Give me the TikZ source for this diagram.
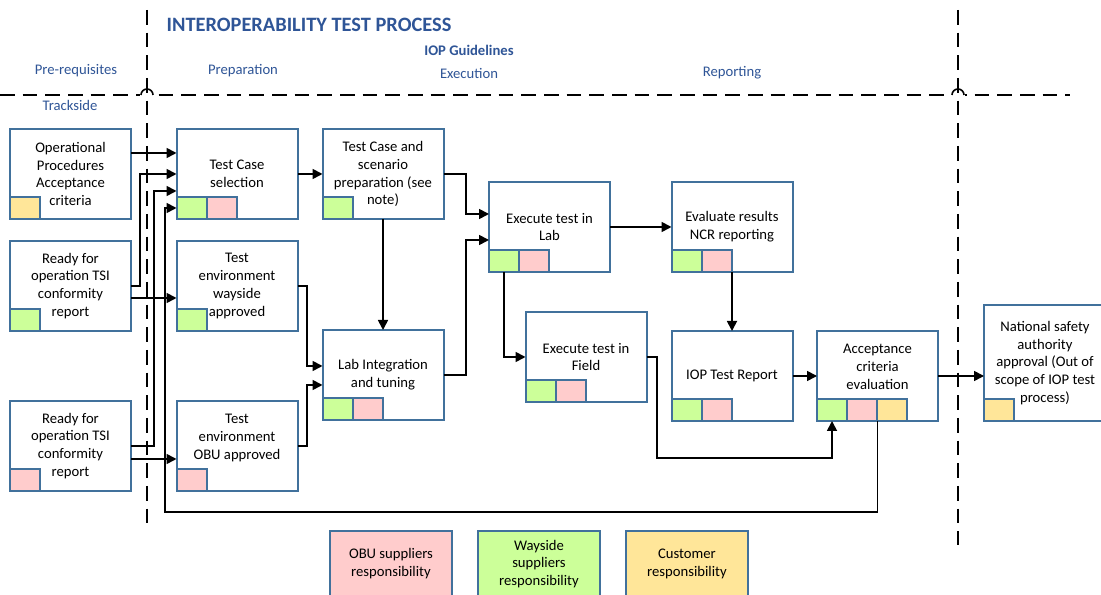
\documentclass[tikz,border=0pt]{standalone}
\usepackage{fontspec}
\setmainfont{Carlito}
\usetikzlibrary{arrows.meta}
\definecolor{bord}{HTML}{41719C}
\definecolor{grn}{HTML}{CCFF99}
\definecolor{pnk}{HTML}{FFCCCC}
\definecolor{ylw}{HTML}{FFE699}
\definecolor{hdrblue}{HTML}{2F5597}
\newcommand\mksq[2]{%
  \foreach \c [count=\i] in {#2} {
    \node[sq, fill=\c] (#1s\i) at ([xshift={(\i-1)*22.5pt}]#1.south west) {};
  }}
\begin{document}
\begin{tikzpicture}[x=0.75pt,y=-0.75pt,
  box/.style={draw=bord, line width=1.5pt, fill=white, minimum width=90.75pt, minimum height=67.5pt,
    inner sep=0pt, outer sep=0pt, align=center, font=\fontsize{11}{13.4}\selectfont},
  sq/.style={draw=bord, line width=1.5pt, minimum width=22.5pt, minimum height=16.5pt,
    inner sep=0pt, outer sep=0pt, anchor=south west},
  legend/.style={box, minimum width=91.5pt, minimum height=49.5pt},
  arr/.style={line width=1.3pt, -{Triangle[length=7.5pt,width=7.5pt]}},
  headtext/.style={text=hdrblue, font=\fontsize{11}{13.4}\selectfont, inner sep=0pt},
  sep/.style={line width=1.5pt, dash pattern=on 11pt off 6pt}]
\useasboundingbox[fill=white] (0,0) rectangle (1101,595);

% separators
\draw[sep] (0,95) -- (1070,95);
\draw[white, line width=3pt] (140,95) -- (154,95);
\draw[white, line width=3pt] (951,95) -- (965,95);
\draw[sep] (147,10) -- (147,530);
\draw[sep] (958,10) -- (958,545);
\draw[line width=1.2pt] (141,95) arc[start angle=180, end angle=0, radius=4.5pt];
\draw[line width=1.2pt] (952,95) arc[start angle=180, end angle=0, radius=4.5pt];

% headings
\node[headtext, font=\fontsize{15.3}{17}\selectfont\bfseries] (title) at (309,25) {INTEROPERABILITY TEST PROCESS};
\node[headtext, font=\fontsize{11}{13.4}\selectfont\bfseries] (iop) at (469,50) {IOP Guidelines};
\node[headtext] (h1) at (76,71) {Pre-requisites};
\node[headtext] (h2) at (243,71) {Preparation};
\node[headtext] (h3) at (469,73) {Execution};
\node[headtext] (h4) at (732,73) {Reporting};
\node[headtext] (h5) at (70,105) {Trackside};

% boxes
\node[box] (A1) at (70.5,174) {Operational\\Procedures\\Acceptance\\criteria};
\node[box] (A2) at (70.5,286) {Ready for\\operation TSI\\conformity\\report};
\node[box] (A3) at (70.5,446) {Ready for\\operation TSI\\conformity\\report};
\node[box] (B1) at (237,174) {Test Case\\selection};
\node[box] (B2) at (237,286) {Test\\environment\\wayside\\approved};
\node[box] (B3) at (237,446) {Test\\environment\\OBU approved\\\mbox{}};
\node[box] (C1) at (383,174) {Test Case and\\scenario\\preparation (see\\note)};
\node[box] (C2) at (383,375) {Lab Integration\\and tuning};
\node[box] (D1) at (549.5,227) {Execute test in\\Lab};
\node[box] (D2) at (586,357) {Execute test in\\Field};
\node[box] (E1) at (732,227) {Evaluate results\\NCR reporting};
\node[box] (E2) at (732,376) {IOP Test Report};
\node[box] (F) at (877.5,376) {Acceptance\\criteria\\evaluation\\\mbox{}};
\node[box, minimum width=91.5pt, minimum height=87pt] (G) at (1045,363)
  {National safety\\authority\\approval (Out of\\scope of IOP test\\process)};

\mksq{A1}{ylw}
\mksq{A2}{grn}
\mksq{A3}{pnk}
\mksq{B1}{grn,pnk}
\mksq{B2}{grn}
\mksq{B3}{pnk}
\mksq{C1}{grn}
\mksq{C2}{grn,pnk}
\mksq{D1}{grn,pnk}
\mksq{D2}{grn,pnk}
\mksq{E1}{grn,pnk}
\mksq{E2}{grn,pnk}
\mksq{F}{grn,pnk,ylw}
\mksq{G}{ylw}

% legend
\node[legend, fill=pnk] (L1) at (391,564) {OBU suppliers\\responsibility};
\node[legend, fill=grn] (L2) at (539,564) {Wayside\\suppliers\\responsibility};
\node[legend, fill=ylw] (L3) at (687,564) {Customer\\responsibility};

% connectors
\draw[arr] ([yshift=15.75pt]A1.east) -- ([yshift=15.75pt]B1.west);
\draw[arr] (A2.east) -| (140,174) -- (B1.west);
\draw[arr] ([yshift=-9pt]A2.east) -- ([yshift=-9pt]B2.west);
\draw[arr] (A3.east) -| (154,191) -- ([yshift=-12.75pt]B1.west);
\draw[arr] ([yshift=-9.75pt]A3.east) -- ([yshift=-9.75pt]B3.west);
\draw[arr] (B1.east) -- (C1.west);
\draw[arr] (B2.east) -| (307,366) -- ([yshift=6.75pt]C2.west);
\draw[arr] (B3.east) -| (307,385) -- ([yshift=-7.5pt]C2.west);
\draw[arr] (C1.east) -| (466,214) -- ([yshift=9.75pt]D1.west);
\draw[arr] (C1.south) -- (C2.north);
\draw[arr] (C2.east) -| (466,240) -- ([yshift=-9.75pt]D1.west);
\draw[arr] (D1.east) -- (E1.west);
\draw[arr] (D1s1.south) |- (D2.west);
\draw[arr] (E1.south) -- (E2.north);
\draw[arr] (E2.east) -- (F.west);
\draw[arr] (D2.east) -| (657,458) -| (Fs1.south);
\draw[arr] (F.south) |- (165,512) -- (165,208) -- ([yshift=-25.5pt]B1.west);
\draw[arr] (F.east) -- (F.east -| G.west);
\end{tikzpicture}
\end{document}
